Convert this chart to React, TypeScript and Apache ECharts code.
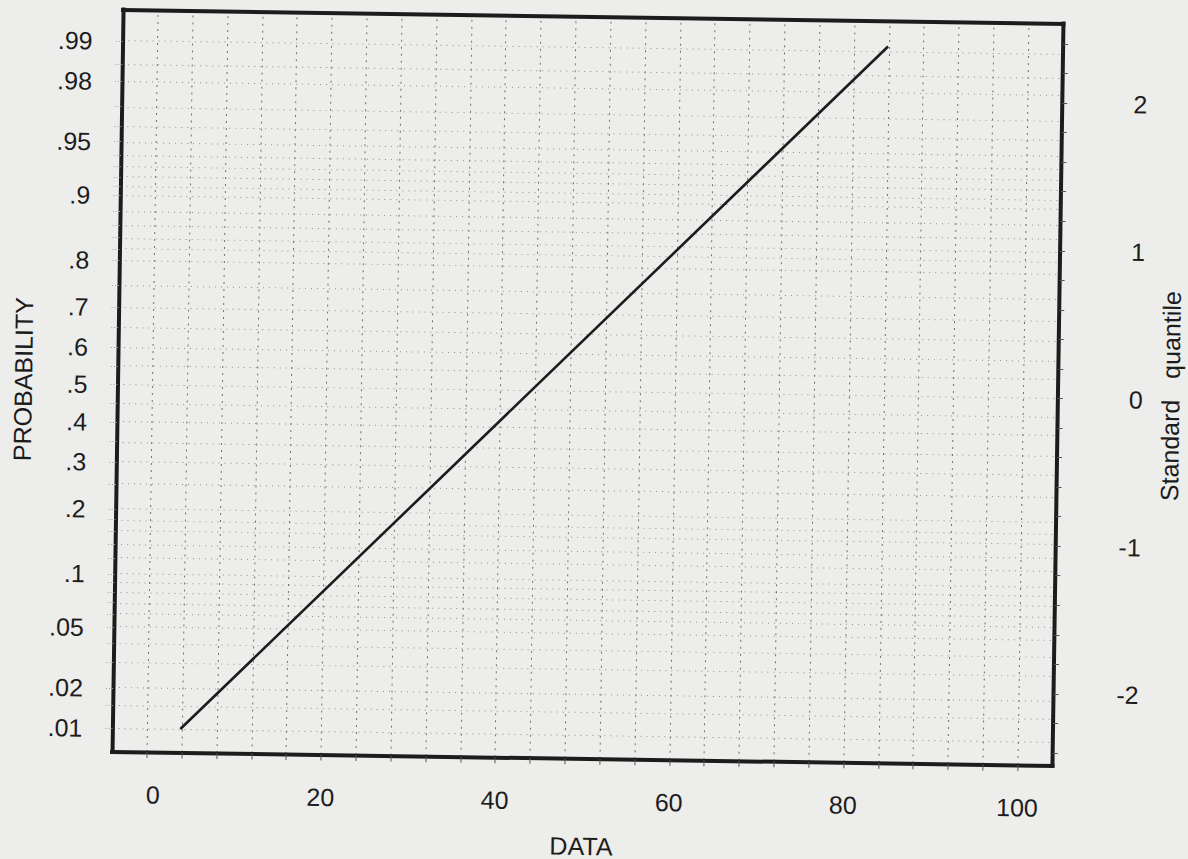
import React, { useEffect, useRef } from "react";
import * as echarts from "echarts";

// ---- data ----
const leftLabelP = [0.01, 0.02, 0.05, 0.1, 0.2, 0.3, 0.4, 0.5, 0.6, 0.7, 0.8, 0.9, 0.95, 0.98, 0.99];
const leftLabels = [".01", ".02", ".05", ".1", ".2", ".3", ".4", ".5", ".6", ".7", ".8", ".9", ".95", ".98", ".99"];
const gridP = [
  0.01, 0.015, 0.02, 0.03, 0.04, 0.05, 0.06, 0.07, 0.08, 0.09, 0.1, 0.12, 0.14, 0.16, 0.18,
  0.2, 0.25, 0.3, 0.35, 0.4, 0.45, 0.5, 0.55, 0.6, 0.65, 0.7, 0.75, 0.8, 0.82, 0.84, 0.86,
  0.88, 0.9, 0.91, 0.92, 0.93, 0.94, 0.95, 0.96, 0.97, 0.98, 0.985, 0.99,
];
const gridX = [0, 4, 8, 12, 16, 20, 24, 28, 32, 36, 40, 44, 48, 52, 56, 60, 64, 68, 72, 76, 80, 84, 88, 92, 96, 100];
const xLabelValues = [0, 20, 40, 60, 80, 100];
const quantileLabels = [-2, -1, 0, 1, 2];
const quantileTicks = [-2.4, -2.2, -2, -1.8, -1.6, -1.4, -1.2, -1, -0.8, -0.6, -0.4, -0.2, 0, 0.2, 0.4, 0.6, 0.8, 1, 1.2, 1.4, 1.6, 1.8, 2, 2.2, 2.4];
const lineX = [3.8, 83.9];
const lineP = [0.01, 0.991];

const X_MIN = -4;
const X_MAX = 104;
const Z_MIN = -2.485;
const Z_MAX = 2.539;

const BG = "#ededeb";
const INK = "#1c1c1c";
const FONT = "'Liberation Sans', Arial, Helvetica, sans-serif";

// inverse standard normal CDF (Acklam) – probability-paper scale transform
function probit(p: number): number {
  const a = [-3.969683028665376e1, 2.209460984245205e2, -2.759285104469687e2, 1.38357751867269e2, -3.066479806614716e1, 2.506628277459239];
  const b = [-5.447609879822406e1, 1.615858368580409e2, -1.556989798598866e2, 6.680131188771972e1, -1.328068155022803e1];
  const c = [-7.784894002430293e-3, -3.223964580411365e-1, -2.400758277161838, -2.549732539343734, 4.374664141464968, 2.938163982698783];
  const d = [7.784695709041462e-3, 3.224671290700398e-1, 2.445134137142996, 3.754408661907416];
  const plow = 0.02425;
  const phigh = 1 - plow;
  if (p < plow) {
    const q = Math.sqrt(-2 * Math.log(p));
    return (((((c[0] * q + c[1]) * q + c[2]) * q + c[3]) * q + c[4]) * q + c[5]) / ((((d[0] * q + d[1]) * q + d[2]) * q + d[3]) * q + 1);
  }
  if (p <= phigh) {
    const q = p - 0.5;
    const r = q * q;
    return ((((((a[0] * r + a[1]) * r + a[2]) * r + a[3]) * r + a[4]) * r + a[5]) * q) / (((((b[0] * r + b[1]) * r + b[2]) * r + b[3]) * r + b[4]) * r + 1);
  }
  const q = Math.sqrt(-2 * Math.log(1 - p));
  return -(((((c[0] * q + c[1]) * q + c[2]) * q + c[3]) * q + c[4]) * q + c[5]) / ((((d[0] * q + d[1]) * q + d[2]) * q + d[3]) * q + 1);
}

const leftLabelZ = leftLabelP.map(probit);
const gridZ = gridP.map(probit);

const borderLine = { show: true, onZero: false, lineStyle: { color: INK, width: 4, cap: "square" as const } };
const textStyle = { color: INK, fontSize: 25, fontFamily: FONT };

function buildOption(): any {
  return {
    animation: false,
    backgroundColor: BG,
    grid: { left: 117.5, right: 130, top: 16.5, bottom: 100.5, containLabel: false, outerBoundsMode: "none" },
    xAxis: [
      {
        type: "value",
        position: "bottom",
        min: X_MIN,
        max: X_MAX,
        interval: 4,
        z: 10,
        axisLine: borderLine,
        axisTick: { show: true, customValues: gridX, length: 6, inside: false, lineStyle: { color: "#555", width: 1 } },
        axisLabel: {
          ...textStyle,
          customValues: xLabelValues,
          margin: 30,
          formatter: (v: number) => (v === 0 ? "{z|0}" : String(v)),
          rich: { z: { ...textStyle, padding: [0, 0, 0, 13] } },
        },
        splitLine: { show: false },
        name: "DATA",
        nameLocation: "middle",
        nameGap: 75,
        nameTextStyle: { ...textStyle },
      },
      {
        type: "value",
        position: "top",
        min: X_MIN,
        max: X_MAX,
        z: 10,
        axisLine: borderLine,
        axisTick: { show: false },
        axisLabel: { show: false },
        splitLine: { show: false },
      },
    ],
    yAxis: [
      {
        type: "value",
        position: "left",
        min: Z_MIN,
        max: Z_MAX,
        z: 10,
        axisLine: borderLine,
        axisTick: { show: true, customValues: gridZ, length: 9, inside: false, lineStyle: { color: "#a0a0a0", width: 1, type: [1, 2] } },
        axisLabel: {
          ...textStyle,
          customValues: leftLabelZ,
          margin: 30,
          formatter: (v: number) => {
            let best = 0;
            for (let i = 1; i < leftLabelZ.length; i++) {
              if (Math.abs(leftLabelZ[i] - v) < Math.abs(leftLabelZ[best] - v)) best = i;
            }
            return leftLabels[best];
          },
        },
        splitLine: { show: false },
        name: "PROBABILITY",
        nameLocation: "middle",
        nameRotate: 90,
        nameGap: 82,
        nameTextStyle: { ...textStyle },
      },
      {
        type: "value",
        position: "right",
        min: Z_MIN,
        max: Z_MAX,
        z: 10,
        axisLine: borderLine,
        axisTick: { show: true, customValues: quantileTicks, length: 5, inside: false, lineStyle: { color: "#555", width: 1 } },
        axisLabel: {
          ...textStyle,
          customValues: quantileLabels,
          align: "right",
          margin: 85,
          padding: [9, 0, 0, 0],
          formatter: (v: number) => String(Math.round(v)),
        },
        splitLine: { show: false },
        name: "Standard   quantile",
        nameLocation: "middle",
        nameRotate: 90,
        nameGap: 100,
        nameTextStyle: { ...textStyle },
      },
    ],
    series: [
      {
        type: "line",
        xAxisIndex: 0,
        yAxisIndex: 0,
        z: 6,
        showSymbol: false,
        symbol: "none",
        silent: true,
        data: lineX.map((x, i) => [x, probit(lineP[i])]),
        lineStyle: { color: INK, width: 2.6 },
        markLine: {
          silent: true,
          symbol: ["none", "none"],
          label: { show: false },
          animation: false,
          data: [
            ...gridX.map((x) => ({ xAxis: x, lineStyle: { color: "#707070", width: 1, type: [2, 5] } })),
            ...gridZ.map((z) => ({ yAxis: z, lineStyle: { color: "#8e8e8e", width: 1, type: [1, 5] } })),
          ],
        },
      },
    ],
  };
}

export default function App() {
  const ref = useRef<HTMLDivElement>(null);
  useEffect(() => {
    if (!ref.current) return;
    const chart = echarts.init(ref.current, null, { renderer: "svg" });
    chart.setOption(buildOption());
    return () => chart.dispose();
  }, []);
  return (
    <div style={{ position: "absolute", left: 0, top: 0, width: 1188, height: 859, overflow: "hidden", background: BG }}>
      <div
        ref={ref}
        style={{ width: 1188, height: 859, transform: "rotate(0.85deg)", transformOrigin: "588px 388px" }}
      />
    </div>
  );
}
